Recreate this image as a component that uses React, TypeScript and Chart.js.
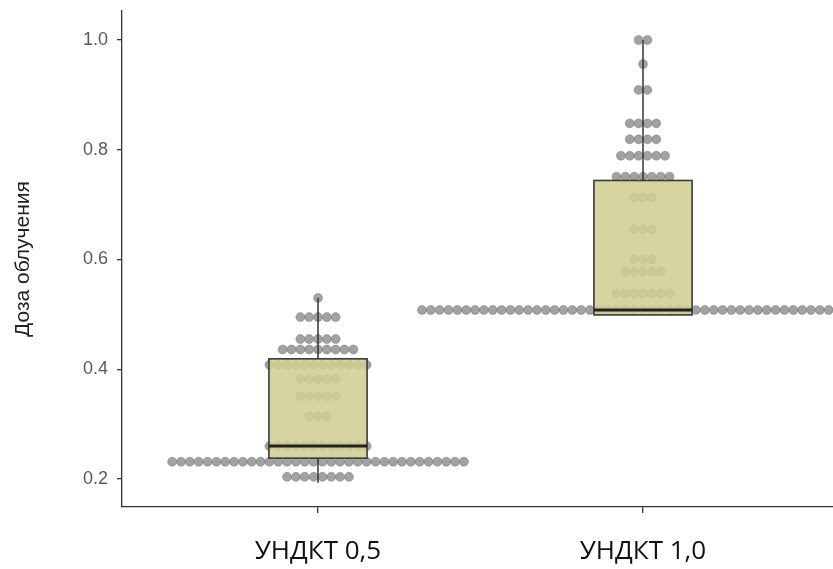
import React, { useEffect, useRef } from "react";
import { Chart, registerables } from "chart.js";

Chart.register(...registerables);

const categories = ["УНДКТ 0,5", "УНДКТ 1,0"];
const yTickValues = [0.2, 0.4, 0.6, 0.8, 1.0];
const yAxisTitle = "Доза облучения";

// dot-plot rows: dose level and number of stacked dots at that level
const group1Levels = [0.204, 0.2315, 0.26, 0.314, 0.351, 0.382, 0.408, 0.436, 0.455, 0.495, 0.53];
const group1Counts = [8, 34, 12, 3, 5, 5, 12, 9, 5, 5, 1];
const group2Levels = [0.508, 0.538, 0.578, 0.6, 0.655, 0.713, 0.751, 0.789, 0.819, 0.848, 0.909, 0.956, 1.0];
const group2Counts = [51, 7, 5, 3, 3, 3, 7, 6, 4, 4, 2, 1, 2];

// box-plot statistics per category
const boxQ1 = [0.238, 0.499];
const boxMedian = [0.26, 0.508];
const boxQ3 = [0.419, 0.744];
const whiskerLow = [0.193, 0.499];
const whiskerHigh = [0.53, 1.0];

const DOT_STEP = 0.0272; // horizontal dot spacing in category units
const BOX_HALF = 0.151; // half box width in category units

function swarm(center: number, levels: number[], counts: number[]) {
  const pts: { x: number; y: number }[] = [];
  levels.forEach((v, k) => {
    const n = counts[k];
    for (let i = 0; i < n; i++) {
      pts.push({ x: center + (i - (n - 1) / 2) * DOT_STEP, y: v });
    }
  });
  return pts;
}

const boxPlugin = {
  id: "boxes",
  afterDatasetsDraw(chart: any) {
    const { ctx } = chart;
    const x = chart.scales.x;
    const y = chart.scales.y;
    categories.forEach((_, i) => {
      const c = i + 1;
      const cx = x.getPixelForValue(c);
      const left = x.getPixelForValue(c - BOX_HALF);
      const right = x.getPixelForValue(c + BOX_HALF);
      const top = y.getPixelForValue(boxQ3[i]);
      const bottom = y.getPixelForValue(boxQ1[i]);
      const med = y.getPixelForValue(boxMedian[i]);
      ctx.save();
      ctx.strokeStyle = "#333333";
      ctx.lineWidth = 1.5;
      ctx.beginPath();
      ctx.moveTo(cx, y.getPixelForValue(whiskerHigh[i]));
      ctx.lineTo(cx, top);
      ctx.moveTo(cx, bottom);
      ctx.lineTo(cx, y.getPixelForValue(whiskerLow[i]));
      ctx.stroke();
      ctx.fillStyle = "rgba(208,206,146,0.88)";
      ctx.fillRect(left, top, right - left, bottom - top);
      ctx.strokeStyle = "#3a3a3a";
      ctx.lineWidth = 1.6;
      ctx.strokeRect(left, top, right - left, bottom - top);
      ctx.strokeStyle = "#222222";
      ctx.lineWidth = 3;
      ctx.beginPath();
      ctx.moveTo(left, med);
      ctx.lineTo(right, med);
      ctx.stroke();
      ctx.restore();
    });
  },
};

export default function App() {
  const ref = useRef<HTMLCanvasElement>(null);
  useEffect(() => {
    document.body.style.margin = "0";
    const canvas = ref.current;
    if (!canvas) return;
    const points = [
      ...swarm(1, group1Levels, group1Counts),
      ...swarm(2, group2Levels, group2Counts),
    ];
    const chart = new Chart(canvas, {
      type: "scatter",
      data: {
        datasets: [
          {
            data: points,
            backgroundColor: "rgba(118,118,118,0.68)",
            borderColor: "rgba(95,95,95,0.5)",
            borderWidth: 0.7,
            pointRadius: 4.5,
            pointHoverRadius: 4.5,
          },
        ],
      },
      options: {
        animation: false,
        responsive: false,
        events: [],
        layout: { autoPadding: false, padding: { top: 11, left: 0, right: 0, bottom: 0 } },
        plugins: { legend: { display: false }, tooltip: { enabled: false } },
        scales: {
          x: {
            type: "linear",
            min: 0.3969,
            max: 2.5846,
            afterBuildTicks: (scale: any) => {
              scale.ticks = categories.map((_, i) => ({ value: i + 1 }));
            },
            afterFit: (scale: any) => {
              scale.height = 62;
              scale.paddingLeft = 0;
              scale.paddingRight = 0;
            },
            grid: {
              display: true,
              drawOnChartArea: false,
              tickLength: 6,
              color: "#333333",
              lineWidth: 1.3,
            },
            border: { display: true, color: "#333333", width: 1.3 },
            ticks: {
              padding: 23,
              color: "#111111",
              font: { family: "'Open Sans', 'Noto Sans', sans-serif", size: 26 },
              maxRotation: 0,
              callback: (v: any) => categories[Math.round(Number(v)) - 1] ?? "",
            },
          },
          y: {
            type: "linear",
            min: 0.149,
            max: 1.0528,
            afterBuildTicks: (scale: any) => {
              scale.ticks = yTickValues.map((v) => ({ value: v }));
            },
            afterFit: (scale: any) => {
              scale.width = 122;
              scale.paddingTop = 0;
              scale.paddingBottom = 0;
            },
            grid: {
              display: true,
              drawOnChartArea: false,
              tickLength: 5,
              color: "#333333",
              lineWidth: 1.3,
            },
            border: { display: true, color: "#333333", width: 1.3 },
            ticks: {
              padding: 9,
              color: "#5a5a5a",
              font: { family: "'Liberation Sans', Arial, sans-serif", size: 18 },
              callback: (v: any) => Number(v).toFixed(1),
            },
            title: {
              display: true,
              text: yAxisTitle,
              color: "#222222",
              padding: { top: 11, bottom: 0 },
              font: { family: "'Liberation Sans', Arial, sans-serif", size: 21 },
            },
          },
        },
      },
      plugins: [boxPlugin],
    });
    return () => chart.destroy();
  }, []);
  return (
    <div style={{ width: 833, height: 569 }}>
      <canvas ref={ref} width={833} height={569} style={{ display: "block" }} />
    </div>
  );
}
